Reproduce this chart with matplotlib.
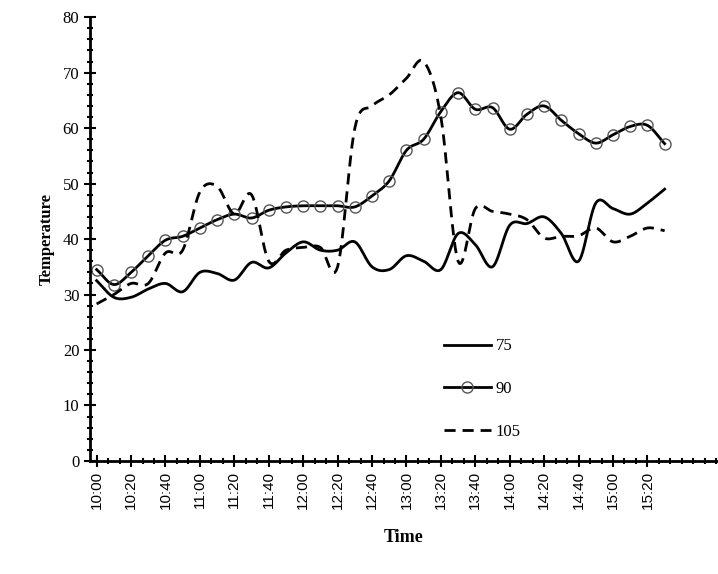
import numpy as np
import matplotlib
matplotlib.use("Agg")
import matplotlib.pyplot as plt

plt.rcParams['font.family'] = ['Liberation Serif', 'DejaVu Serif']

# --- DATA ---
times = ["10:00", "10:10", "10:20", "10:30", "10:40", "10:50", "11:00", "11:10", "11:20", "11:30",
         "11:40", "11:50", "12:00", "12:10", "12:20", "12:30", "12:40", "12:50", "13:00", "13:10",
         "13:20", "13:30", "13:40", "13:50", "14:00", "14:10", "14:20", "14:30", "14:40", "14:50",
         "15:00", "15:10", "15:20", "15:30"]
t75 = [32.5, 29.5, 29.5, 31, 32, 30.5, 34, 33.8, 32.6, 35.8, 34.8, 37.5, 39.5, 38, 38, 39.5, 35,
       34.5, 37, 36, 34.5, 41, 39, 35, 42.5, 42.8, 44, 41, 36, 46.5, 45.5, 44.5, 46.5, 49]
t90 = [34.5, 31.8, 34, 37, 39.8, 40.5, 42, 43.5, 44.5, 43.8, 45.2, 45.8, 46, 46, 46, 45.8, 47.8,
       50.5, 56, 58, 63, 66.4, 63.4, 63.7, 59.8, 62.5, 64, 61.4, 59, 57.3, 58.8, 60.3, 60.5, 57.2]
t105 = [28.3, 30, 32, 32, 37.5, 38, 48.5, 49.5, 44.5, 48, 36, 38, 38.5, 38.5, 35, 60, 64, 66,
        69, 72, 62, 36, 45.5, 45, 44.5, 43.5, 40.2, 40.5, 40.6, 42, 39.5, 40.5, 42, 41.5]


# --- smooth line like the spreadsheet (Catmull-Rom) ---
def smooth(y, n=12):
    x = np.arange(len(y), dtype=float)
    y = np.asarray(y, dtype=float)
    px = np.concatenate([[2 * x[0] - x[1]], x, [2 * x[-1] - x[-2]]])
    py = np.concatenate([[2 * y[0] - y[1]], y, [2 * y[-1] - y[-2]]])
    xs, ys = [], []
    for i in range(1, len(px) - 2):
        t = np.linspace(0, 1, n, endpoint=False)
        for p, out in ((px, xs), (py, ys)):
            p0, p1, p2, p3 = p[i - 1], p[i], p[i + 1], p[i + 2]
            out.extend(0.5 * (2 * p1 + (-p0 + p2) * t + (2 * p0 - 5 * p1 + 4 * p2 - p3) * t ** 2
                              + (-p0 + 3 * p1 - 3 * p2 + p3) * t ** 3))
    xs.append(x[-1])
    ys.append(y[-1])
    return np.array(xs), np.array(ys)


fig = plt.figure(figsize=(7.18, 5.74), dpi=100)
ax = fig.add_axes([0.125, 0.197, 0.875, 0.773])
idx = np.arange(len(times))

sx, sy = smooth(t75)
ax.plot(sx, sy, color='black', lw=2, label='75')
sx, sy = smooth(t90)
ax.plot(sx, sy, color='black', lw=2)
ax.plot(idx, t90, 'o', ms=8, mfc='none', mec='#555555', mew=1)
ax.plot([], [], color='black', lw=2, marker='o', ms=8, mfc='none', mec='#555555', label='90')
sx, sy = smooth(t105)
ax.plot(sx, sy, color='black', lw=2, ls=(0, (4, 2.5)), label='105')

ax.set_xlim(-0.4, 36.1)
ax.set_ylim(0, 80)
ax.set_xticks(idx[::2])
ax.set_xticklabels(times[::2], rotation=90, fontsize=11, family=['Liberation Sans'])
ax.set_xticks(np.arange(0, 36.2, 2 / 3), minor=True)
ax.set_yticks(range(0, 81, 10))
ax.set_yticks(range(0, 81, 2), minor=True)
ax.tick_params(axis='y', labelsize=12)
ax.tick_params(which='major', direction='inout', length=8, width=1.5)
ax.tick_params(which='minor', direction='inout', length=5, width=1.5)
for s in ('top', 'right'):
    ax.spines[s].set_visible(False)
for s in ('left', 'bottom'):
    ax.spines[s].set_linewidth(2)

ax.set_xlabel('Time', fontsize=13, fontweight='bold', labelpad=14)
ax.set_ylabel('Temperature', fontsize=12, fontweight='bold', labelpad=6)

ax.legend(loc='upper left', bbox_to_anchor=(0.54, 0.31), frameon=False, fontsize=12,
          handlelength=2.8, labelspacing=1.6, handletextpad=0.3)

fig.savefig('out.png', dpi=100)
